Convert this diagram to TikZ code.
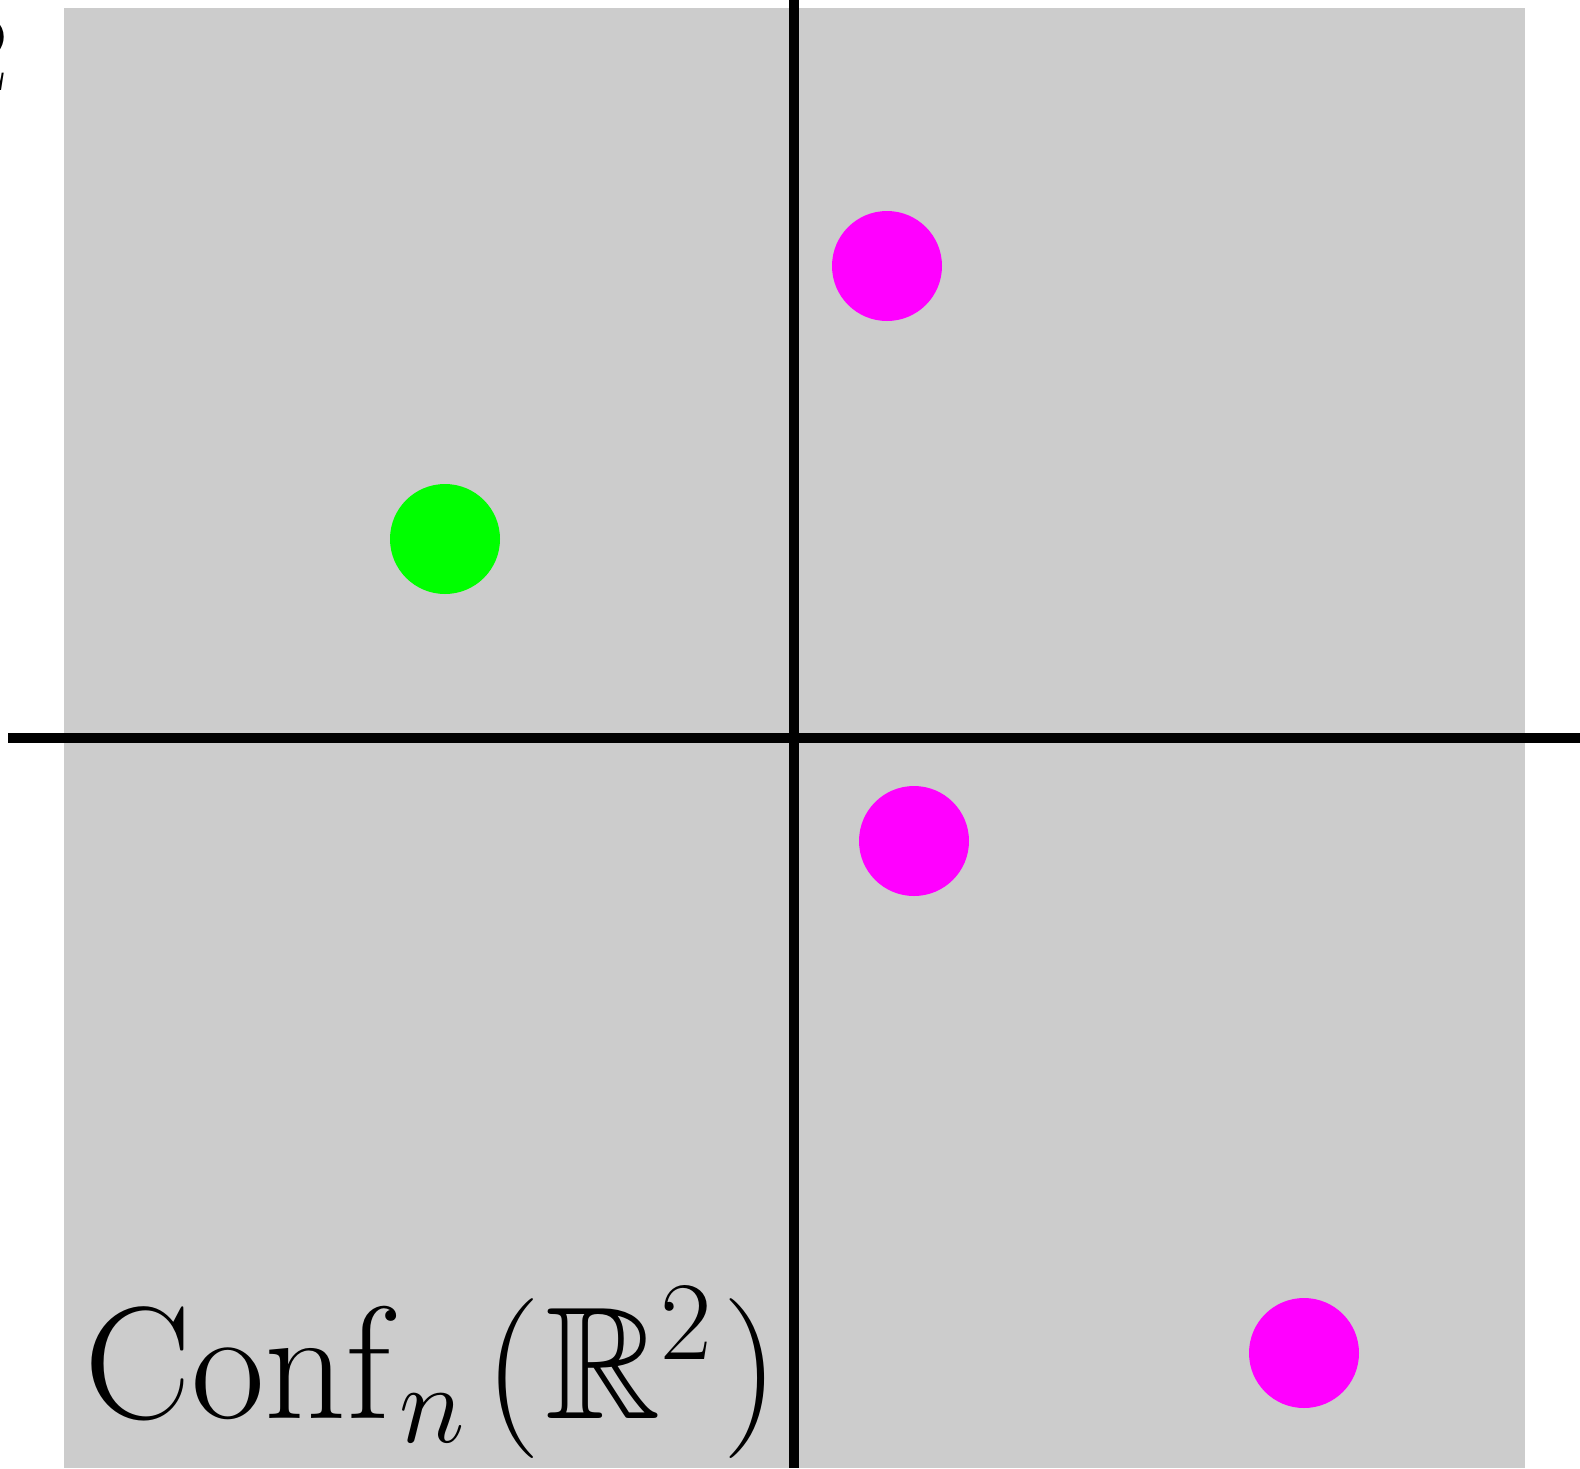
\RequirePackage{fix-cm}
\documentclass[tikz,border=0pt]{standalone}
\usepackage{amssymb}
\begin{document}
\begin{tikzpicture}[x=0.5pt,y=-0.5pt]
\definecolor{pmag}{rgb}{1,0,1}
\definecolor{pgreen}{rgb}{0,1,0}
\tikzset{
  dot/.style={circle,inner sep=0pt,minimum size=55pt},
  axis/.style={line width=5pt,black},
}
\useasboundingbox (0,0) rectangle (1580,1468);
\fill[white] (0,0) rectangle (1580,1468);
\fill[black!20] (64,8) rectangle (1525,1468);
\coordinate (hl) at (8,738);
\coordinate (hr) at (1580,738);
\coordinate (vt) at (794,0);
\coordinate (vb) at (794,1468);
\draw[axis] (hl) -- (hr);
\draw[axis] (vt) -- (vb);
\node[dot,fill=pmag] (m1) at (887,266) {};
\node[dot,fill=pgreen] (g1) at (445,539) {};
\node[dot,fill=pmag] (m2) at (914,841) {};
\node[dot,fill=pmag] (m3) at (1304,1353) {};
\node[inner sep=0pt,anchor=base west,font=\fontsize{80}{96}\selectfont] (lbl) at (84,1418) {$\mathrm{Conf}_n\mkern2mu(\mkern0.5mu\mathbb{R}^2\mkern1mu)$};
\node[inner sep=0pt,anchor=base east,font=\fontsize{56}{66}\selectfont] (two) at (9,90) {2};
\end{tikzpicture}
\end{document}
